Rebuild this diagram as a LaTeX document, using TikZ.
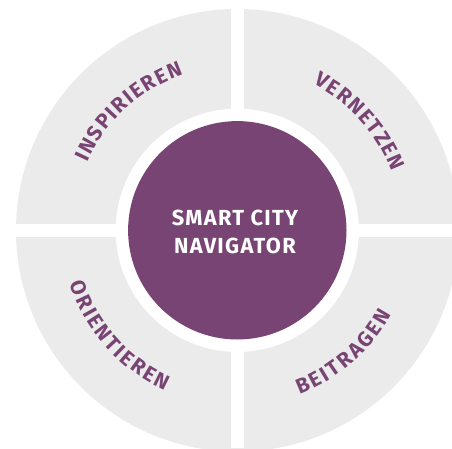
\documentclass[tikz,border=0pt]{standalone}
\usepackage{fontspec}
\newfontfamily\labelfont{Fira Sans}[LetterSpace=6]
\newfontfamily\labelbase{Fira Sans}
\definecolor{purp}{HTML}{784473}
\definecolor{ringgrey}{HTML}{EBEBEB}
\newdimen\chw
\newdimen\arcTotD
\newdimen\arcPosD
\newcommand\ringfont{\labelbase\bfseries\fontsize{21}{22}\selectfont}
\tikzset{
  ringletter/.style={text=purp, font=\ringfont, inner sep=0pt, anchor=base},
  centertext/.style={text=white, font=\labelfont\bfseries\fontsize{21.8}{26}\selectfont, anchor=base, inner sep=0pt}
}
% letter widths, measured once before the picture (fallback values if measuring fails)
\AtBeginDocument{%
  \foreach \L/\F in {I/6.1,N/14.3,S/11.5,P/12.6,R/13,E/11.1,V/12.6,T/11.1,Z/11.1,O/14.5,B/13.2,A/13.4,G/13}{%
    \setbox0=\hbox{\ringfont\L}%
    \ifdim\wd0>0.5pt
      \expandafter\xdef\csname chw@\L\endcsname{\the\wd0}%
    \else
      \expandafter\xdef\csname chw@\L\endcsname{\F pt}%
    \fi
  }}
% #1 centre, #2 baseline radius, #3 centre angle, #4 dir (1 clockwise on top, -1 anticlockwise at bottom),
% #5 tracking (pt), #6 name prefix, #7 letters
\newcommand\arclabel[7]{%
  \global\arcTotD=0pt\relax
  \foreach \ch in {#7}{%
    \global\advance\arcTotD by \csname chw@\ch\endcsname\relax
    \global\advance\arcTotD by #5pt\relax
  }%
  \global\advance\arcTotD by -#5pt\relax
  \global\arcPosD=0pt\relax
  \foreach \ch [count=\i] in {#7}{%
    \global\chw=\csname chw@\ch\endcsname\relax
    \pgfmathsetmacro\arcMid{\arcPosD+0.5*\chw-0.5*\arcTotD}%
    \pgfmathsetmacro\arcAng{#3-(#4)*\arcMid/#2*57.29578}%
    \pgfmathsetmacro\arcRot{\arcAng-(#4)*90}%
    \node[ringletter, rotate=\arcRot] (#6-\i) at ([shift={(\arcAng:#2)}]#1) {\ch};%
    \global\advance\arcPosD by \chw\relax
    \global\advance\arcPosD by #5pt\relax
  }%
}
\begin{document}
\begin{tikzpicture}[x=1pt,y=1pt]
\useasboundingbox (0,0) rectangle (452,448);
\clip (0,0) rectangle (452,448);
\coordinate (c) at (237.3,217.7);
% grey ring
\fill[ringgrey] (c) circle[radius=221.3];
% white cross
\fill[white] (231,0) rectangle (243.7,448);
\fill[white] (0,211.3) rectangle (452,224);
% white ring gap and purple core
\fill[white] (c) circle[radius=121.6];
\fill[purp] (c) circle[radius=109.2];
% center text
\node[centertext] (t1) at (235,222.3) {SMART CITY};
\node[centertext] (t2) at (235,194.7) {NAVIGATOR};
% ring labels
\arclabel{c}{164.8}{132.4}{1}{1.5}{insp}{I,N,S,P,I,R,I,E,R,E,N}
\arclabel{c}{164.8}{41.7}{1}{1.45}{vern}{V,E,R,N,E,T,Z,E,N}
\arclabel{c}{175.7}{221.8}{-1}{2.25}{orie}{O,R,I,E,N,T,I,E,R,E,N}
\arclabel{c}{175.7}{311.1}{-1}{2.45}{beit}{B,E,I,T,R,A,G,E,N}
\end{tikzpicture}
\end{document}
